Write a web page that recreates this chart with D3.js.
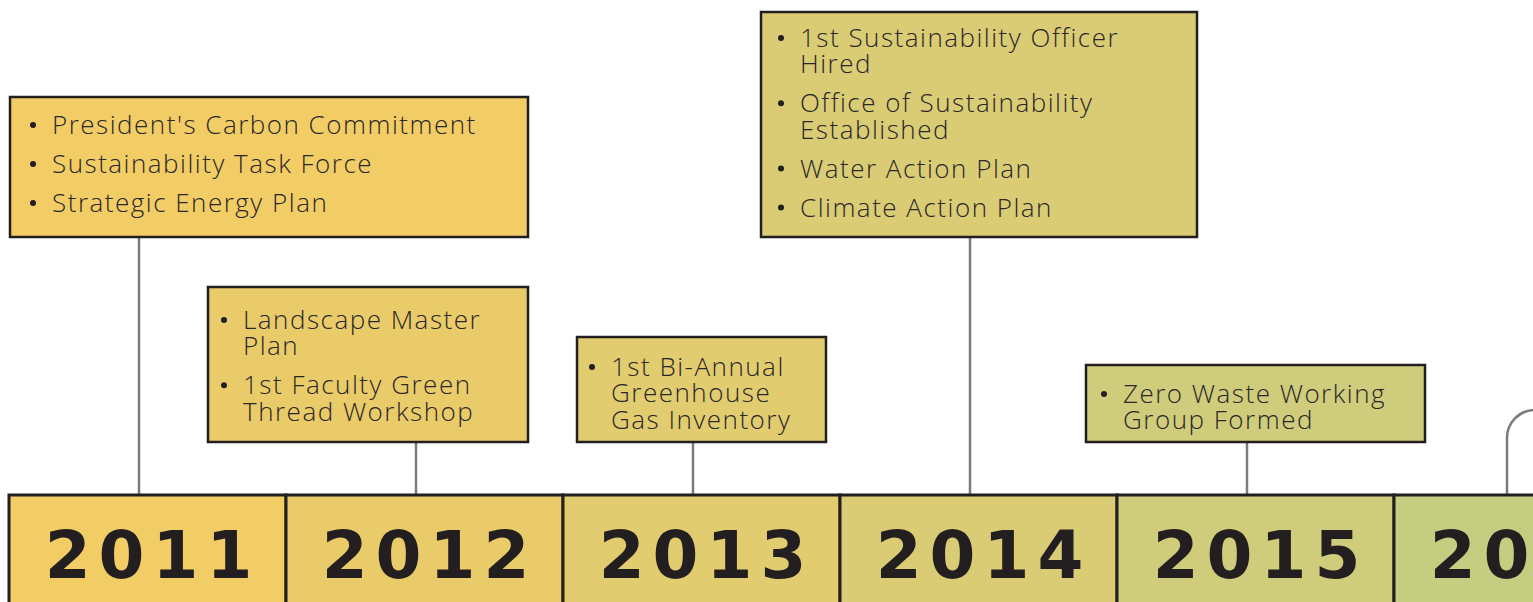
<!DOCTYPE html>
<html>
<head>
<meta charset="utf-8">
<script src="https://cdn.jsdelivr.net/npm/d3@7"></script>
<style>
  body { margin: 0; background: #fff; overflow: hidden; }
</style>
</head>
<body>
<div id="timeline"></div>
<script>
// Years shown along the bottom band.
const years = ["2011", "2012", "2013", "2014", "2015", "2016"];

// Milestones for each year (each item is split into its printed lines).
const milestones2011 = [["President's Carbon Commitment"], ["Sustainability Task Force"], ["Strategic Energy Plan"]];
const milestones2012 = [["Landscape Master", "Plan"], ["1st Faculty Green", "Thread Workshop"]];
const milestones2013 = [["1st Bi-Annual", "Greenhouse", "Gas Inventory"]];
const milestones2014 = [["1st Sustainability Officer", "Hired"], ["Office of Sustainability", "Established"], ["Water Action Plan"], ["Climate Action Plan"]];
const milestones2015 = [["Zero Waste Working", "Group Formed"]];
const milestonesByYear = [milestones2011, milestones2012, milestones2013, milestones2014, milestones2015];

// Fill colours going from yellow to green.
const palette = ["#f2cd66", "#eacb69", "#e2cc70", "#d9cc75", "#cfcc7b", "#c5cd81"];

// Box placement for each year's callout.
const boxLayout = [
    { x: 10, y: 97, w: 518, h: 140, padTop: 37, padLeft: 23 },
    { x: 208, y: 287, w: 320, h: 155, padTop: 42, padLeft: 16 },
    { x: 577, y: 337, w: 249, h: 105, padTop: 39, padLeft: 15 },
    { x: 761, y: 12, w: 436, h: 225, padTop: 35, padLeft: 20 },
    { x: 1086, y: 365, w: 339, h: 77, padTop: 38, padLeft: 18 }
];

let width = 1533;
let height = 602;
let bandTop = 495;
let dark = "#231f20";
let stemColor = "#7b7b7b";
let lineStep = 26.3;

let svg = d3.select("#timeline")
    .append("svg")
    .attr("width", width)
    .attr("height", height);

// Band scale for the year cells.
let x = d3.scaleBand()
    .domain(years)
    .range([9, 9 + 277 * years.length])
    .padding(0);

// Connector lines from each callout down to the band.
milestonesByYear.forEach((items, i) => {
    let b = boxLayout[i];
    let sx = x(years[i]) + 130;
    svg.append("line")
        .attr("x1", sx).attr("x2", sx)
        .attr("y1", b.y + b.h).attr("y2", bandTop)
        .attr("stroke", stemColor)
        .attr("stroke-width", 2.5);
});

// 2016 connector bends off to the right.
let sx16 = x("2016") + 113;
let r = 28;
let p = d3.path();
p.moveTo(sx16, bandTop);
p.lineTo(sx16, 410 + r);
p.arcTo(sx16, 410, sx16 + r, 410, r);
p.lineTo(width + 20, 410);
svg.append("path")
    .attr("d", p.toString())
    .attr("fill", "none")
    .attr("stroke", stemColor)
    .attr("stroke-width", 2.5);

// Year cells.
let cells = svg.append("g")
    .selectAll("g")
    .data(years)
    .enter()
    .append("g");

cells.append("rect")
    .attr("x", (d) => x(d))
    .attr("y", bandTop)
    .attr("width", x.bandwidth())
    .attr("height", 140)
    .attr("fill", (d, i) => palette[i])
    .attr("stroke", dark)
    .attr("stroke-width", 3);

cells.append("text")
    .attr("x", (d) => x(d) + x.bandwidth() / 2 + 5)
    .attr("y", 578)
    .attr("text-anchor", "middle")
    .style("font-family", "'DejaVu Sans', sans-serif")
    .style("font-weight", "bold")
    .style("font-size", "66px")
    .style("letter-spacing", "8px")
    .attr("fill", dark)
    .text((d) => d);

// Callout boxes with bulleted items.
milestonesByYear.forEach((items, i) => {
    let b = boxLayout[i];
    let g = svg.append("g");

    g.append("rect")
        .attr("x", b.x)
        .attr("y", b.y)
        .attr("width", b.w)
        .attr("height", b.h)
        .attr("fill", palette[i])
        .attr("stroke", dark)
        .attr("stroke-width", 2.5);

    let baseline = b.y + b.padTop;
    items.forEach((lines, k) => {
        if (k > 0) baseline += 39;
        g.append("circle")
            .attr("cx", b.x + b.padLeft)
            .attr("cy", baseline - 9)
            .attr("r", 3)
            .attr("fill", dark);

        // One text per item, wrapped lines as tspans.
        let t = g.append("text")
            .attr("y", baseline)
            .style("font-family", "'Open Sans', sans-serif")
            .style("font-weight", 300)
            .style("font-size", "26px")
            .style("letter-spacing", "1.5px")
            .attr("fill", "#2b2728");
        t.selectAll("tspan")
            .data(lines)
            .enter()
            .append("tspan")
            .attr("x", b.x + b.padLeft + 19)
            .attr("dy", (d, j) => j === 0 ? 0 : lineStep)
            .text((d) => d);
        baseline += (lines.length - 1) * lineStep;
    });
});
</script>
</body>
</html>
